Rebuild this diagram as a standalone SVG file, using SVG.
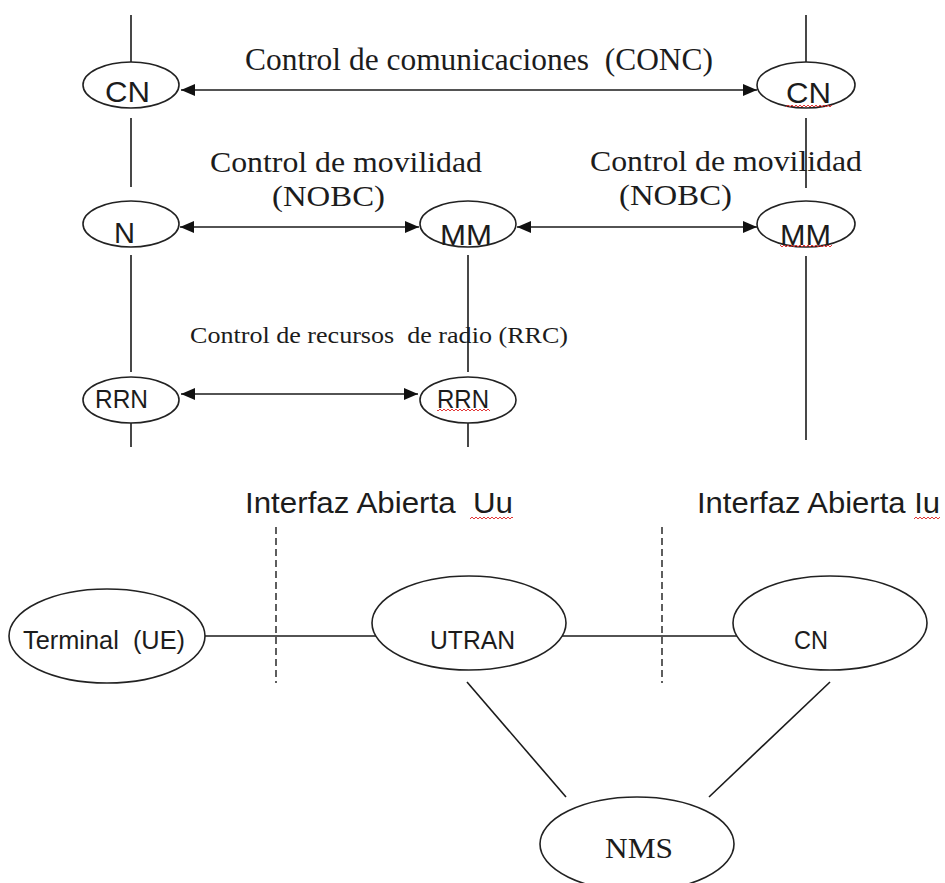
<svg xmlns="http://www.w3.org/2000/svg" width="945" height="883" viewBox="0 0 945 883">
  <style>
    .bg { fill: #ffffff; }
    .node { fill: #ffffff; stroke: #222222; stroke-width: 1.6; }
    .wire { fill: none; stroke: #1a1a1a; stroke-width: 1.6; }
    .link { fill: none; stroke: #1a1a1a; stroke-width: 1.6; marker-start: url(#head); marker-end: url(#head); }
    .dash { fill: none; stroke: #1a1a1a; stroke-width: 1.4; stroke-dasharray: 7 4; }
    .serif { font-family: "Liberation Serif", "Times New Roman", serif; fill: #1c1c1c; }
    .sans { font-family: "Liberation Sans", Arial, sans-serif; fill: #1c1c1c; }
    .squiggle { fill: url(#wave); }
  </style>
  <defs>
    <marker id="head" viewBox="0 0 14 12" refX="14" refY="6" markerWidth="14" markerHeight="12" markerUnits="userSpaceOnUse" orient="auto-start-reverse">
      <path d="M0,0 L14,6 L0,12 z" fill="#111111"/>
    </marker>
    <pattern id="wave" patternUnits="userSpaceOnUse" width="4" height="4">
      <path d="M0,1 L2,3 L4,1" fill="none" stroke="#e02020" stroke-width="0.9"/>
    </pattern>
  </defs>

  <rect class="bg" x="0" y="0" width="945" height="883"/>

  <!-- protocol stack: vertical column lines and peer links -->
  <g id="connectors">
    <!-- left column -->
    <line class="wire" x1="131" y1="15" x2="131" y2="62"/>
    <line class="wire" x1="131" y1="118" x2="131" y2="187"/>
    <line class="wire" x1="131" y1="255" x2="131" y2="372"/>
    <line class="wire" x1="131" y1="423" x2="131" y2="447"/>
    <!-- middle column -->
    <line class="wire" x1="468" y1="255" x2="468" y2="372"/>
    <line class="wire" x1="468" y1="423" x2="468" y2="447"/>
    <!-- right column -->
    <line class="wire" x1="806" y1="15" x2="806" y2="62"/>
    <line class="wire" x1="806" y1="118" x2="806" y2="188"/>
    <line class="wire" x1="806" y1="256" x2="806" y2="440"/>

    <!-- peer-to-peer signalling -->
    <line class="link" x1="181" y1="90" x2="757" y2="90"/>
    <line class="link" x1="180" y1="227" x2="419" y2="227"/>
    <line class="link" x1="517" y1="227" x2="757" y2="227"/>
    <line class="link" x1="181" y1="394" x2="418" y2="394"/>

    <!-- interface boundaries -->
    <line class="dash" x1="276" y1="527" x2="276" y2="683"/>
    <line class="dash" x1="662" y1="527" x2="662" y2="683"/>

    <!-- network architecture links -->
    <line class="wire" x1="204" y1="636" x2="376" y2="636"/>
    <line class="wire" x1="562" y1="636" x2="737" y2="636"/>
    <line class="wire" x1="467" y1="682" x2="566" y2="797"/>
    <line class="wire" x1="830" y1="682" x2="709" y2="797"/>
  </g>

  <!-- link labels -->
  <g id="labels">
    <text class="serif" x="245" y="70" font-size="31" textLength="468" lengthAdjust="spacingAndGlyphs" xml:space="preserve">Control de comunicaciones  (CONC)</text>
    <text class="serif" x="210" y="172" font-size="29" textLength="272" lengthAdjust="spacingAndGlyphs">Control de movilidad</text>
    <text class="serif" x="272" y="206" font-size="29" textLength="113" lengthAdjust="spacingAndGlyphs">(NOBC)</text>
    <text class="serif" x="590" y="171" font-size="29" textLength="272" lengthAdjust="spacingAndGlyphs">Control de movilidad</text>
    <text class="serif" x="619" y="205" font-size="29" textLength="113" lengthAdjust="spacingAndGlyphs">(NOBC)</text>
    <text class="serif" x="190" y="343" font-size="24" textLength="378" lengthAdjust="spacingAndGlyphs" xml:space="preserve">Control de recursos  de radio (RRC)</text>
    <text class="sans" x="245" y="513" font-size="29" textLength="268" lengthAdjust="spacingAndGlyphs" xml:space="preserve">Interfaz Abierta  Uu</text>
    <text class="sans" x="697" y="513" font-size="29" textLength="243" lengthAdjust="spacingAndGlyphs">Interfaz Abierta Iu</text>
    <rect class="squiggle" x="470" y="516" width="43" height="4"/>
    <rect class="squiggle" x="914" y="516" width="26" height="4"/>
  </g>

  <!-- stack entities -->
  <g id="cn-ue">
    <ellipse class="node" cx="131" cy="85" rx="48" ry="23"/>
    <text class="sans" x="105" y="102" font-size="30" textLength="45" lengthAdjust="spacingAndGlyphs">CN</text>
  </g>
  <g id="cn-core">
    <ellipse class="node" cx="806" cy="85" rx="49" ry="23"/>
    <text class="sans" x="786" y="103" font-size="30" textLength="45" lengthAdjust="spacingAndGlyphs">CN</text>
    <rect class="squiggle" x="786" y="104" width="46" height="4"/>
  </g>
  <g id="n-ue">
    <ellipse class="node" cx="131" cy="224" rx="48" ry="23"/>
    <text class="sans" x="114" y="243" font-size="30" textLength="21" lengthAdjust="spacingAndGlyphs">N</text>
  </g>
  <g id="mm-ran">
    <ellipse class="node" cx="468" cy="224" rx="48" ry="23"/>
    <text class="sans" x="440" y="245" font-size="30" textLength="52" lengthAdjust="spacingAndGlyphs">MM</text>
  </g>
  <g id="mm-core">
    <ellipse class="node" cx="806" cy="224" rx="49" ry="23"/>
    <text class="sans" x="780" y="245" font-size="30" textLength="51" lengthAdjust="spacingAndGlyphs">MM</text>
    <rect class="squiggle" x="780" y="244" width="52" height="4"/>
  </g>
  <g id="rrn-ue">
    <ellipse class="node" cx="131" cy="400" rx="48" ry="23"/>
    <text class="sans" x="95" y="408" font-size="25" textLength="53" lengthAdjust="spacingAndGlyphs">RRN</text>
  </g>
  <g id="rrn-ran">
    <ellipse class="node" cx="468" cy="400" rx="48" ry="23"/>
    <text class="sans" x="437" y="408" font-size="25" textLength="52" lengthAdjust="spacingAndGlyphs">RRN</text>
    <rect class="squiggle" x="437" y="408" width="53" height="4"/>
  </g>

  <!-- network elements -->
  <g id="terminal">
    <ellipse class="node" cx="107" cy="636" rx="98" ry="47"/>
    <text class="sans" x="23" y="649" font-size="26" textLength="162" lengthAdjust="spacingAndGlyphs" xml:space="preserve">Terminal  (UE)</text>
  </g>
  <g id="utran">
    <ellipse class="node" cx="469" cy="623" rx="97" ry="47"/>
    <text class="sans" x="430" y="649" font-size="26" textLength="85" lengthAdjust="spacingAndGlyphs">UTRAN</text>
  </g>
  <g id="cn">
    <ellipse class="node" cx="830" cy="623" rx="97" ry="47"/>
    <text class="sans" x="794" y="649" font-size="26" textLength="34" lengthAdjust="spacingAndGlyphs">CN</text>
  </g>
  <g id="nms">
    <ellipse class="node" cx="637" cy="844" rx="97" ry="47"/>
    <text class="serif" x="605" y="858" font-size="30" textLength="68" lengthAdjust="spacingAndGlyphs">NMS</text>
  </g>
</svg>
